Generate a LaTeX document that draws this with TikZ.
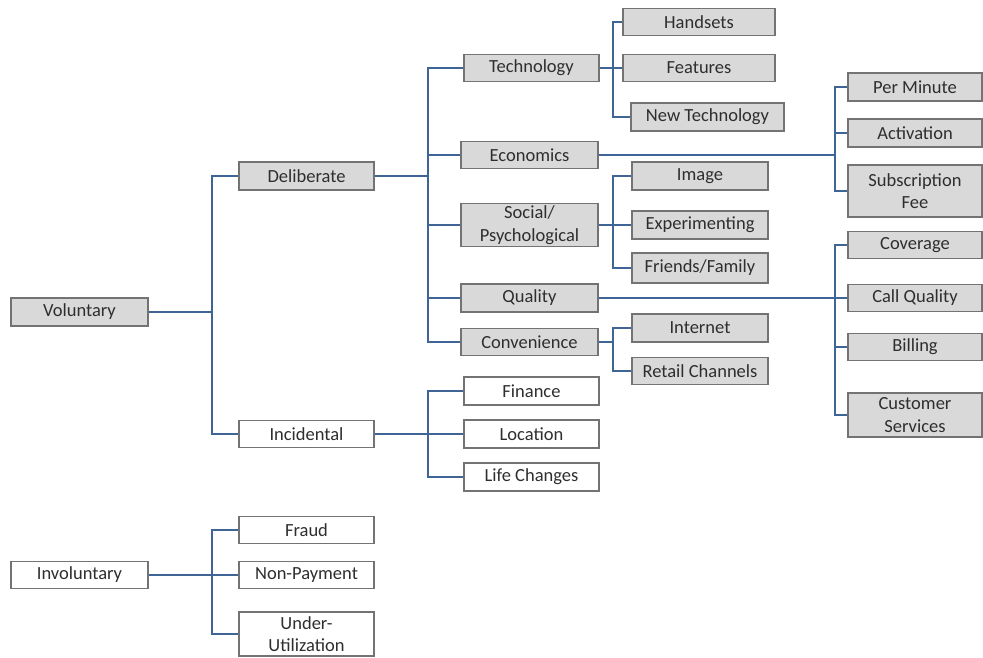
\documentclass[tikz,border=0pt]{standalone}
\usepackage{fontspec}
\setmainfont{Carlito}
\definecolor{boxfill}{HTML}{D9D9D9}
\definecolor{boxline}{HTML}{737373}
\definecolor{linkblue}{HTML}{3F6496}
\definecolor{txt}{HTML}{2E2E2E}
\begin{document}
\begin{tikzpicture}[x=1pt,y=-1pt,
  base/.style={draw=boxline, line width=1.1pt, inner sep=0pt, align=center,
    text=txt, font=\fontsize{18.5}{22.5}\selectfont},
  gbox/.style={base, fill=boxfill},
  wbox/.style={base, fill=white},
  link/.style={draw=linkblue, line width=1.5pt}]
\useasboundingbox (0,0) rectangle (983,657);

% level 1
\node[gbox, minimum width=137, minimum height=28] (vol) at (79.5,312) {Voluntary};
\node[wbox, minimum width=137, minimum height=27] (invol) at (79.5,575) {Involuntary};

% level 2
\node[gbox, minimum width=135, minimum height=28] (delib) at (306.5,176) {Deliberate};
\node[wbox, minimum width=135, minimum height=27] (incid) at (306.5,434) {Incidental};
\node[wbox, minimum width=135, minimum height=27] (fraud) at (306.5,530) {Fraud};
\node[wbox, minimum width=135, minimum height=27] (nonpay) at (306.5,575) {Non-Payment};
\node[wbox, minimum width=135, minimum height=44] (under) at (306.5,634) {Under-\\Utilization};

% level 3
\node[gbox, minimum width=135, minimum height=27] (tech) at (531.5,68) {Technology};
\node[gbox, minimum width=137, minimum height=27] (econ) at (529.5,155) {Economics};
\node[gbox, minimum width=137, minimum height=43] (social) at (529.5,225) {Social/\\Psychological};
\node[gbox, minimum width=137, minimum height=28] (qual) at (529.5,298) {Quality};
\node[gbox, minimum width=137, minimum height=27] (conv) at (529.5,342) {Convenience};
\node[wbox, minimum width=135, minimum height=28] (fin) at (531.5,391) {Finance};
\node[wbox, minimum width=135, minimum height=28] (loc) at (531.5,434) {Location};
\node[wbox, minimum width=135, minimum height=28] (life) at (531.5,477) {Life Changes};

% level 4
\node[gbox, minimum width=152, minimum height=27] (hand) at (699,22) {Handsets};
\node[gbox, minimum width=152, minimum height=27] (feat) at (699,68) {Features};
\node[gbox, minimum width=153, minimum height=28] (newtech) at (707.5,117) {New Technology};
\node[gbox, minimum width=136, minimum height=28] (image) at (700,176) {Image};
\node[gbox, minimum width=136, minimum height=28] (exper) at (700,225) {Experimenting};
\node[gbox, minimum width=136, minimum height=30] (friends) at (700,268) {Friends/Family};
\node[gbox, minimum width=136, minimum height=28] (inet) at (700,328) {Internet};
\node[gbox, minimum width=136, minimum height=27] (retail) at (700,371) {Retail Channels};

% right-hand column
\node[gbox, minimum width=134, minimum height=28] (permin) at (915,87) {Per Minute};
\node[gbox, minimum width=134, minimum height=28] (activ) at (915,133) {Activation};
\node[gbox, minimum width=134, minimum height=52] (subs) at (915,191) {Subscription\\Fee};
\node[gbox, minimum width=134, minimum height=27] (cover) at (915,245) {Coverage};
\node[gbox, minimum width=134, minimum height=27] (callq) at (915,298) {Call Quality};
\node[gbox, minimum width=134, minimum height=27] (bill) at (915,347) {Billing};
\node[gbox, minimum width=134, minimum height=44] (cust) at (915,415) {Customer\\Services};

% junction points of the branch lines
\coordinate (jvol) at (212,312);
\coordinate (jinv) at (212,575);
\coordinate (jdel) at (428,176);
\coordinate (jinc) at (428,434);
\coordinate (jtech) at (613,68);
\coordinate (jsoc) at (613,225);
\coordinate (jconv) at (613,342);
\coordinate (jecon) at (835,155);
\coordinate (jqual) at (835,298);

% Voluntary
\draw[link] (vol.east) -- (jvol);
\draw[link] (jvol) |- (delib.west);
\draw[link] (jvol) |- (incid.west);
% Involuntary
\draw[link] (invol.east) -- (invol.east -| nonpay.west);
\draw[link] (jinv) |- (fraud.west);
\draw[link] (jinv) |- (under.west);
% Deliberate
\draw[link] (delib.east) -- (jdel);
\draw[link] (jdel) |- (tech.west);
\draw[link] (jdel) |- (econ.west);
\draw[link] (jdel) |- (social.west);
\draw[link] (jdel) |- (qual.west);
\draw[link] (jdel) |- (conv.west);
% Incidental
\draw[link] (incid.east) -- (incid.east -| loc.west);
\draw[link] (jinc) |- (fin.west);
\draw[link] (jinc) |- (life.west);
% Technology
\draw[link] (tech.east) -- (tech.east -| feat.west);
\draw[link] (jtech) |- (hand.west);
\draw[link] (jtech) |- (newtech.west);
% Social/Psychological
\draw[link] (social.east) -- (social.east -| exper.west);
\draw[link] (jsoc) |- (image.west);
\draw[link] (jsoc) |- (friends.west);
% Convenience
\draw[link] (conv.east) -- (jconv);
\draw[link] (jconv) |- (inet.west);
\draw[link] (jconv) |- (retail.west);
% Economics
\draw[link] (econ.east) -- (jecon);
\draw[link] (jecon) |- (permin.west);
\draw[link] (jecon) |- (activ.west);
\draw[link] (jecon) |- (subs.west);
% Quality
\draw[link] (qual.east) -- (qual.east -| callq.west);
\draw[link] (jqual) |- (cover.west);
\draw[link] (jqual) |- (bill.west);
\draw[link] (jqual) |- (cust.west);
\end{tikzpicture}
\end{document}
